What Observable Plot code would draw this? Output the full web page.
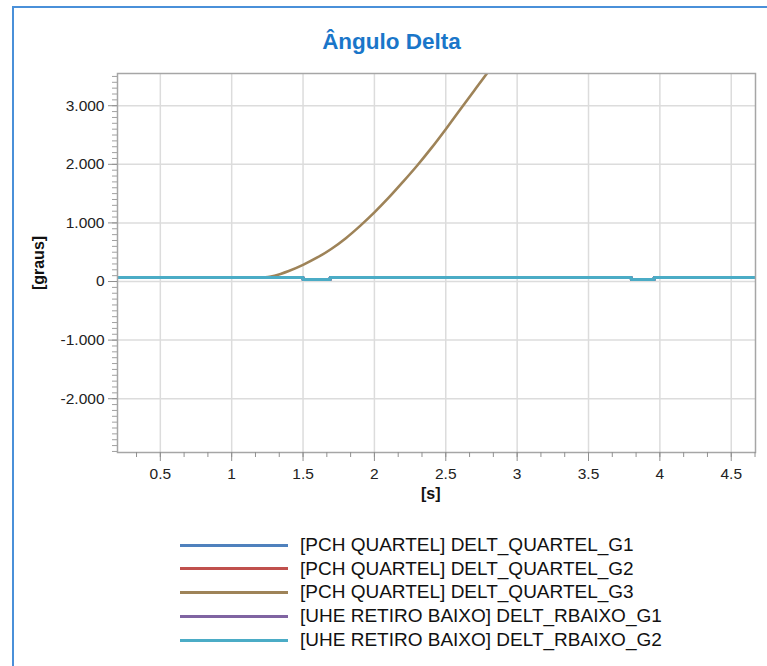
<!DOCTYPE html>
<html>
<head>
<meta charset="utf-8">
<script src="https://cdn.jsdelivr.net/npm/d3@7"></script>
<script src="https://cdn.jsdelivr.net/npm/@observablehq/plot@0.6"></script>
<style>
  body { margin: 0; background: #fff; font-family: "Liberation Sans", Arial, sans-serif; }
  #wrap { position: relative; width: 767px; height: 666px; overflow: hidden; background: #fff; }
  #border { position: absolute; left: 12px; top: 6px; width: 800px; height: 720px; border: 2px solid #4a90d9; box-sizing: border-box; }
  #title { position: absolute; left: 8px; width: 767px; top: 29px; text-align: center; font-size: 22.5px; line-height: 26px; font-weight: bold; color: #1a76c9; }
  #chart { position: absolute; left: 0; top: 0; }
  .axtitle { position: absolute; font-weight: bold; font-size: 16px; color: #111; white-space: nowrap; line-height: 18px; }
  #legend { position: absolute; left: 0; top: 0; }
  .lg-row { position: absolute; left: 180px; height: 20px; display: flex; align-items: center; }
  .lg-line { width: 108px; height: 3px; margin-right: 12px; }
  .lg-text { font-size: 19px; color: #111; white-space: nowrap; }
</style>
</head>
<body>
<div id="wrap">
  <div id="border"></div>
  <div id="title">Ângulo Delta</div>
  <div id="chart"></div>
  <div class="axtitle" id="xtitle" style="left:421px; top:485px;">[s]</div>
  <div class="axtitle" id="ytitle" style="left:39px; top:263px; transform: translate(-50%,-50%) rotate(-90deg);">[graus]</div>
  <div id="legend"></div>
</div>
<script>
// ---- data ----
const seriesNames = [
  "[PCH QUARTEL] DELT_QUARTEL_G1",
  "[PCH QUARTEL] DELT_QUARTEL_G2",
  "[PCH QUARTEL] DELT_QUARTEL_G3",
  "[UHE RETIRO BAIXO] DELT_RBAIXO_G1",
  "[UHE RETIRO BAIXO] DELT_RBAIXO_G2"
];
const seriesColors = ["#4f81bd", "#c0504d", "#9e8358", "#8064a2", "#4bacc6"];

// flat series (stepped), time [s] and angle [graus]
const flatTime  = [0.2, 1.5, 1.69, 3.8, 3.96, 4.67];
const flatValue = [68, 35, 68, 35, 68, 68];

// G3 of PCH QUARTEL (diverging)
const g3Time  = [0.2, 1.0, 1.22, 1.3, 1.4, 1.5, 1.6, 1.7, 1.8, 1.9, 2.0, 2.1, 2.2, 2.3, 2.4, 2.5, 2.6, 2.7, 2.8, 2.85];
const g3Value = [68, 68, 70, 100, 180, 285, 410, 560, 740, 950, 1180, 1430, 1700, 1980, 2280, 2600, 2930, 3260, 3590, 3760];

const xTicks = [0.5, 1, 1.5, 2, 2.5, 3, 3.5, 4, 4.5];
const yTicks = [-2000, -1000, 0, 1000, 2000, 3000];
const xDomain = [0.2, 4.67];
const yDomain = [-2918, 3550];

// ---- build ----
const xMinor = d3.range(2, 29).map(k => k / 6).filter(v => v > xDomain[0] && v < xDomain[1]);
const yMinor = d3.range(-29, 36).map(k => k * 100);
const fmtY = d => d === 0 ? "0" : (d < 0 ? "-" : "") + d3.format(",")(Math.abs(d)).replace(/,/g, ".");

const flatRows = (name) => flatTime.map((t, i) => ({t, v: flatValue[i], name}));
const g3Rows = g3Time.map((t, i) => ({t, v: g3Value[i], name: seriesNames[2]}));

const lineMarks = seriesNames.map((name, i) => {
  if (i === 2) {
    return Plot.line(g3Rows, {x: "t", y: "v", stroke: seriesColors[i], strokeWidth: 2.6, curve: "monotone-x", clip: true});
  }
  return Plot.line(flatRows(name), {x: "t", y: "v", stroke: seriesColors[i], strokeWidth: 3, curve: "step-after", clip: true});
});

const chart = Plot.plot({
  width: 767,
  height: 666,
  marginLeft: 117,
  marginTop: 73,
  marginRight: 12,
  marginBottom: 214,
  style: {background: "transparent", fontFamily: "'Liberation Sans', Arial, sans-serif", fontSize: "15px", color: "#222"},
  x: {domain: xDomain, label: null},
  y: {domain: yDomain, label: null},
  marks: [
    Plot.gridX(xTicks, {stroke: "#dcdcdc", strokeOpacity: 1, strokeWidth: 1.5}),
    Plot.gridY(yTicks, {stroke: "#dcdcdc", strokeOpacity: 1, strokeWidth: 1.5}),
    ...lineMarks,
    Plot.frame({stroke: "#a6a6a6", strokeWidth: 1.5}),
    Plot.axisX(xMinor, {tickSize: 5, tickFormat: () => "", stroke: "#909090"}),
    Plot.axisX(xTicks, {tickSize: 9, tickPadding: 6, tickFormat: d => String(d), stroke: "#909090", fill: "#222", fontSize: 15.5}),
    Plot.axisY(yMinor, {tickSize: 5, tickFormat: () => "", stroke: "#a0a0a0"}),
    Plot.axisY(yTicks, {tickSize: 9, tickPadding: 4, tickFormat: fmtY, stroke: "#909090", fill: "#222", fontSize: 15.5})
  ]
});
document.getElementById("chart").appendChild(chart);

// legend
const legend = document.getElementById("legend");
const rowY = [545, 568.5, 592, 616, 640];
seriesNames.forEach((name, i) => {
  const row = document.createElement("div");
  row.className = "lg-row";
  row.style.top = (rowY[i] - 10) + "px";
  const ln = document.createElement("div");
  ln.className = "lg-line";
  ln.style.background = seriesColors[i];
  const tx = document.createElement("span");
  tx.className = "lg-text";
  tx.textContent = name;
  row.appendChild(ln);
  row.appendChild(tx);
  legend.appendChild(row);
});
</script>
</body>
</html>
